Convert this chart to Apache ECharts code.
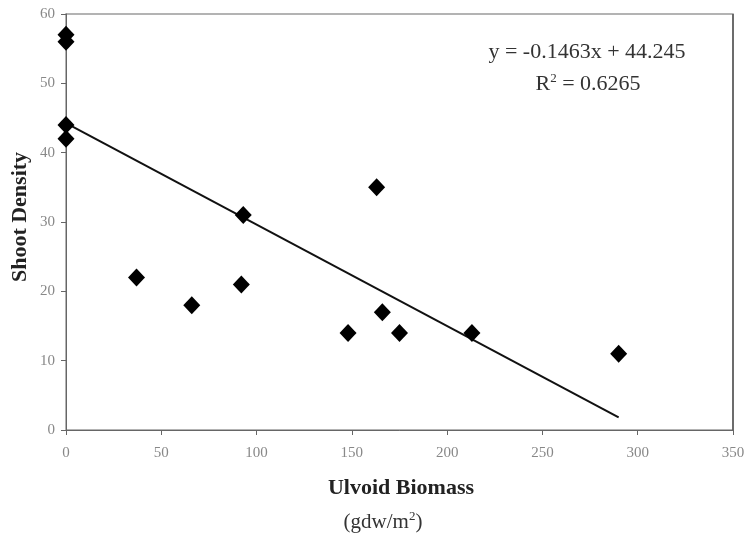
<!DOCTYPE html>
<html>
<head>
<meta charset="utf-8">
<script src="https://cdn.jsdelivr.net/npm/echarts@6/dist/echarts.min.js"></script>
<style>html,body{margin:0;padding:0;background:#fff}#c{width:745px;height:536px}</style>
</head>
<body>
<div id="c"></div>
<script>
var biomass = [0, 0, 0, 0, 37, 66, 92, 93, 148, 163, 166, 175, 213, 290];
var density = [57, 56, 44, 42, 22, 18, 21, 31, 14, 35, 17, 14, 14, 11];
var slope = -0.1463;
var intercept = 44.245;
var trendRange = [0, 290];
var xTicks = [0, 50, 100, 150, 200, 250, 300, 350];
var yTicks = [0, 10, 20, 30, 40, 50, 60];
var equationText = 'y = -0.1463x + 44.245';
var r2Text = 'R{sup|2} = 0.6265';
var xTitle = 'Ulvoid Biomass';
var xUnit = '(gdw/m{sup|2})';
var yTitle = 'Shoot Density';

var points = biomass.map(function (x, i) { return [x, density[i]]; });
var trend = trendRange.map(function (x) { return [x, intercept + slope * x]; });
var font = 'Liberation Serif';
var supStyle = { fontFamily: font, fontSize: 13, verticalAlign: 'top', padding: [0, 0, 10, 0], fill: '#333' };

var chart = echarts.init(document.getElementById('c'));
chart.setOption({
  animation: false,
  backgroundColor: '#fff',
  grid: { left: 66, right: 12, top: 14, bottom: 106, outerBoundsMode: 'none', containLabel: false, show: true, borderColor: '#9a9a9a', borderWidth: 1.5 },
  xAxis: {
    type: 'value', min: xTicks[0], max: xTicks[xTicks.length - 1], interval: 50,
    axisLine: { show: true, lineStyle: { color: '#666', width: 1 } },
    axisTick: { show: true, length: 5, lineStyle: { color: '#666' } },
    axisLabel: { fontFamily: font, fontSize: 15, color: '#888', margin: 16 },
    splitLine: { show: false }
  },
  yAxis: {
    type: 'value', min: yTicks[0], max: yTicks[yTicks.length - 1], interval: 10,
    axisLine: { show: true, lineStyle: { color: '#666', width: 1 } },
    axisTick: { show: true, length: 5, lineStyle: { color: '#666' } },
    axisLabel: { fontFamily: font, fontSize: 15, color: '#888', margin: 11 },
    splitLine: { show: false }
  },
  graphic: [
    { type: 'text', x: 401, y: 488, style: { text: xTitle, font: 'bold 22px "Liberation Serif"', fill: '#222', align: 'center', verticalAlign: 'middle' } },
    { type: 'text', x: 383, y: 522, style: { text: xUnit, fontFamily: font, fontSize: 21, fill: '#333', align: 'center', verticalAlign: 'middle', rich: { sup: supStyle } } },
    { type: 'text', x: 20, y: 217, rotation: Math.PI / 2, style: { text: yTitle, font: 'bold 22px "Liberation Serif"', fill: '#222', align: 'center', verticalAlign: 'middle' } },
    { type: 'text', x: 587, y: 52, style: { text: equationText, fontFamily: font, fontSize: 22, fill: '#333', align: 'center', verticalAlign: 'middle' } },
    { type: 'text', x: 588, y: 84, style: { text: r2Text, fontFamily: font, fontSize: 22, fill: '#333', align: 'center', verticalAlign: 'middle', rich: { sup: supStyle } } },
    { type: 'line', shape: { x1: 733, y1: 14, x2: 733, y2: 430 }, style: { stroke: '#555', lineWidth: 1.5 } }
  ],
  series: [
    {
      type: 'line', data: trend, symbol: 'none', z: 2,
      lineStyle: { color: '#111', width: 2 }
    },
    {
      type: 'scatter', data: points, symbol: 'diamond', symbolSize: [17, 18], z: 3,
      itemStyle: { color: '#000', opacity: 1 }
    }
  ]
});
</script>
</body>
</html>
